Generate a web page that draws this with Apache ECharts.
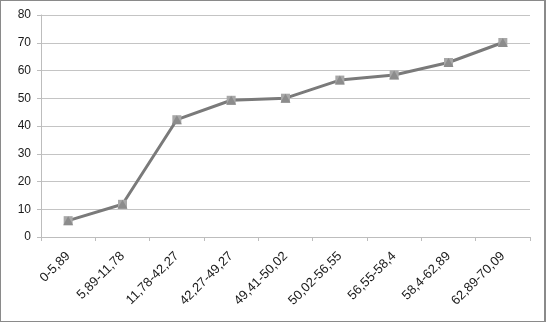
<!DOCTYPE html>
<html><head><meta charset="utf-8">
<script src="https://cdn.jsdelivr.net/npm/echarts@6/dist/echarts.min.js"></script>
<style>html,body{margin:0;padding:0;background:#fff}#c{width:546px;height:322px;box-sizing:border-box;border:1px solid #8a8a8a;border-right-width:2px}</style>
</head><body><div id="c"></div>
<script>
const categories = ["0-5,89","5,89-11,78","11,78-42,27","42,27-49,27","49,41-50,02","50,02-56,55","56,55-58,4","58,4-62,89","62,89-70,09"];
const values = [5.89, 11.78, 42.27, 49.27, 50.02, 56.55, 58.4, 62.89, 70.09];
const yTicks = [0, 10, 20, 30, 40, 50, 60, 70, 80];

const chart = echarts.init(document.getElementById('c'));
chart.setOption({
  animation: false,
  grid: {left: 40, right: 14, top: 14, bottom: 84},
  xAxis: {
    type: 'category', data: categories, boundaryGap: true,
    axisLine: {lineStyle: {color: '#bdbdbd', width: 1}},
    axisTick: {show: true, length: 4, lineStyle: {color: '#bdbdbd'}},
    axisLabel: {rotate: 45, interval: 0, color: '#1a1a1a', fontFamily: 'Liberation Sans', fontSize: 13, margin: 17}
  },
  yAxis: {
    type: 'value', min: yTicks[0], max: yTicks[yTicks.length-1], interval: 10,
    axisLine: {show: true, lineStyle: {color: '#bdbdbd'}},
    axisTick: {show: true, length: 4, lineStyle: {color: '#bdbdbd'}},
    splitLine: {lineStyle: {color: '#c4c4c4', width: 1}},
    axisLabel: {color: '#1a1a1a', fontFamily: 'Liberation Sans', fontSize: 12, margin: 10}
  },
  series: [
    {type: 'line', data: values, symbol: 'rect', symbolSize: 9,
     lineStyle: {color: '#7a7a7a', width: 3},
     itemStyle: {color: '#a8a8a8', borderWidth: 0}, z: 2},
    {type: 'scatter', data: values, symbol: 'triangle', symbolSize: [10, 9],
     itemStyle: {color: '#858585'}, z: 3}
  ]
});
</script></body></html>
